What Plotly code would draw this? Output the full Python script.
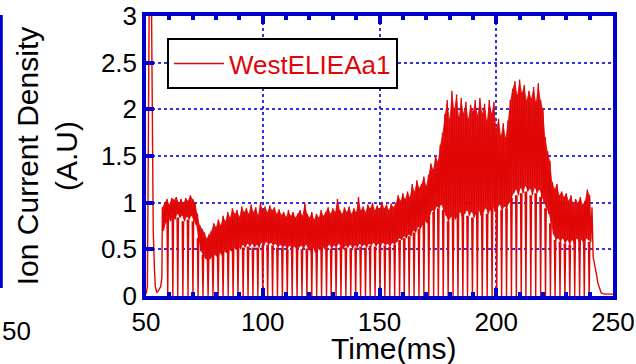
import plotly.graph_objects as go

# ---- data ----
start_t = [50.0, 50.6, 51.0, 51.4, 52.3, 52.8, 53.1, 53.6, 54.0, 54.6, 55.2, 55.8, 56.3, 56.8]
start_v = [0.02, 0.10, 1.60, 3.30, 3.30, 1.60, 0.70, 0.30, 0.10, 0.04, 0.05, 0.08, 0.10, 0.20]

band_t = list(range(57, 241))  # 1 ms samples, 57..240
band_upper = [
    0.95, 1.00, 1.04, 0.98, 1.05, 1.03, 1.06, 1.00, 1.04, 0.99,   # 57-66
    1.05, 1.02, 1.08, 1.04, 1.00, 0.88, 0.76, 0.72, 0.68, 0.62,   # 67-76
    0.66, 0.70, 0.78, 0.74, 0.82, 0.76, 0.86, 0.80, 0.90, 0.84,   # 77-86
    0.94, 0.88, 0.92, 0.85, 0.96, 0.90, 0.94, 0.88, 0.98, 0.90,   # 87-96
    0.95, 0.87, 1.00, 0.92, 0.96, 0.90, 0.97, 0.92, 0.95, 0.88,   # 97-106
    0.93, 0.87, 0.90, 0.85, 0.92, 0.86, 0.90, 0.84, 0.88, 0.92,   # 107-116
    0.86, 1.00, 0.88, 0.84, 0.90, 0.82, 0.88, 0.84, 0.92, 0.86,   # 117-126
    0.90, 0.95, 0.88, 0.94, 0.90, 1.04, 0.92, 0.88, 0.95, 0.90,   # 127-136
    0.96, 0.88, 0.94, 0.90, 1.06, 0.92, 0.96, 0.90, 0.98, 0.94,   # 137-146
    1.00, 0.92, 0.97, 0.93, 1.01, 0.94, 0.98, 0.92, 0.99, 0.95,   # 147-156
    1.00, 1.08, 1.02, 1.10, 1.04, 1.12, 1.06, 1.20, 1.12, 1.24,   # 157-166
    1.16, 1.20, 1.28, 1.18, 1.30, 1.42, 1.36, 1.50, 1.44, 1.62,   # 167-176
    1.75, 1.95, 2.10, 1.90, 2.20, 2.00, 2.16, 1.92, 2.12, 1.96,   # 177-186
    2.08, 1.90, 2.05, 1.98, 2.10, 1.94, 2.12, 1.96, 2.06, 1.88,   # 187-196
    2.10, 1.96, 2.08, 1.80, 1.90, 1.72, 1.85, 1.70, 1.88, 2.10,   # 197-206
    2.22, 2.30, 2.16, 2.32, 2.18, 2.26, 2.10, 2.20, 2.12, 2.24,   # 207-216
    2.08, 2.28, 2.10, 2.00, 1.70, 1.55, 1.45, 1.22, 1.15, 1.20,   # 217-226
    1.08, 1.12, 1.06, 1.10, 1.02, 1.08, 0.98, 1.04, 1.00, 1.06,   # 227-236
    0.98, 1.02, 1.14, 1.08,                                       # 237-240
]
band_lower = [
    0.70, 0.78, 0.84, 0.80, 0.86, 0.82, 0.88, 0.84, 0.86, 0.80,   # 57-66
    0.85, 0.82, 0.86, 0.80, 0.76, 0.62, 0.48, 0.44, 0.40, 0.38,   # 67-76
    0.40, 0.42, 0.44, 0.42, 0.46, 0.44, 0.48, 0.46, 0.50, 0.48,   # 77-86
    0.52, 0.50, 0.54, 0.50, 0.55, 0.52, 0.56, 0.53, 0.56, 0.52,   # 87-96
    0.55, 0.52, 0.57, 0.54, 0.58, 0.55, 0.57, 0.54, 0.56, 0.52,   # 97-106
    0.55, 0.52, 0.54, 0.50, 0.54, 0.51, 0.53, 0.50, 0.52, 0.54,   # 107-116
    0.50, 0.55, 0.51, 0.48, 0.52, 0.47, 0.51, 0.49, 0.53, 0.50,   # 117-126
    0.52, 0.55, 0.51, 0.54, 0.52, 0.56, 0.53, 0.50, 0.54, 0.52,   # 127-136
    0.55, 0.51, 0.54, 0.52, 0.56, 0.53, 0.55, 0.52, 0.56, 0.54,   # 137-146
    0.57, 0.53, 0.56, 0.54, 0.57, 0.54, 0.56, 0.53, 0.57, 0.55,   # 147-156
    0.58, 0.62, 0.60, 0.64, 0.62, 0.66, 0.64, 0.70, 0.68, 0.74,   # 157-166
    0.72, 0.76, 0.80, 0.78, 0.86, 0.92, 0.90, 0.96, 0.94, 0.98,   # 167-176
    0.92, 0.86, 0.80, 0.84, 0.88, 0.82, 0.86, 0.90, 0.84, 0.88,   # 177-186
    0.92, 0.86, 0.90, 0.84, 0.88, 0.92, 0.86, 0.90, 0.94, 0.88,   # 187-196
    0.92, 0.96, 0.90, 0.94, 0.98, 0.92, 0.96, 0.94, 1.00, 1.05,   # 197-206
    1.10, 1.14, 1.08, 1.16, 1.10, 1.18, 1.12, 1.15, 1.08, 1.16,   # 207-216
    1.10, 1.14, 1.06, 1.00, 0.94, 0.88, 0.78, 0.66, 0.60, 0.62,   # 217-226
    0.58, 0.62, 0.56, 0.60, 0.55, 0.60, 0.56, 0.62, 0.58, 0.60,   # 227-236
    0.56, 0.62, 0.60, 0.58,                                       # 237-240
]

tail_t = [241.0, 241.5, 242.0, 242.5, 243.0, 243.5, 244.0, 244.5, 245.0, 246.5, 248.0, 250.0]
tail_v = [0.95, 0.42, 0.36, 0.30, 0.22, 0.14, 0.10, 0.05, 0.03, 0.02, 0.02, 0.02]

dip_t = [
    59.3, 61.5, 63.6, 65.8, 68.0, 70.1, 72.3, 74.4, 76.6, 78.7,
    80.9, 83.0, 85.2, 87.3, 89.4, 91.6, 93.7, 95.8, 97.9, 100.0,
    102.1, 104.2, 106.3, 108.4, 110.5, 112.6, 114.7, 116.8, 118.9, 121.0,
    123.1, 125.2, 127.3, 129.3, 131.4, 133.5, 135.6, 137.7, 139.8, 141.9,
    144.0, 146.0, 148.1, 150.2, 152.3, 154.4, 156.5, 158.6, 160.6, 162.7,
    164.8, 166.9, 169.0, 171.1, 173.2, 175.2, 177.3, 179.4, 181.5, 183.6,
    185.7, 187.7, 189.8, 191.9, 194.0, 196.1, 198.2, 200.2, 202.3, 204.4,
    206.5, 208.6, 210.7, 212.7, 214.8, 216.9, 219.0, 221.1, 223.2, 225.2,
    227.3, 229.4, 231.5, 233.6, 235.7, 237.7, 239.8,
]

series_name = "WestELIEAa1"
x_title = "Time(ms)"
y_title = "Ion Current Density<br>(A.U)"

RED = "rgb(224,6,6)"
BLUE = "rgb(0,0,205)"
GRID = "rgb(50,50,230)"
FONT = "Liberation Sans, Arial, sans-serif"

# dense band body (filled between the envelopes)
fx = list(band_t) + [t + 0.5 for t in reversed(band_t)]
fy = list(band_upper) + list(reversed(band_lower))

# signal trace from the arrays
sx = list(start_t)
sy = list(start_v)
for t, u, l in zip(band_t, band_upper, band_lower):
    sx += [t, t + 0.5]
    sy += [u, l]
sx += tail_t
sy += tail_v

# sweep dips down to zero
dx, dy = [], []
for t in dip_t:
    i = min(range(len(band_t)), key=lambda k: abs(band_t[k] - t))
    lv = band_lower[i]
    dx += [t - 0.3, t, t + 0.3, None]
    dy += [lv, 0.0, lv, None]

fig = go.Figure()
fig.add_trace(go.Scatter(x=fx, y=fy, mode="none", fill="toself",
                         fillcolor="rgba(226,10,10,0.9)", showlegend=False, hoverinfo="skip"))
fig.add_trace(go.Scatter(x=dx, y=dy, mode="lines", line=dict(color=RED, width=1.4),
                         showlegend=False, hoverinfo="skip"))
fig.add_trace(go.Scatter(x=sx, y=sy, mode="lines", name=series_name,
                         line=dict(color=RED, width=1.4)))

fig.update_layout(
    width=636, height=364,
    margin=dict(l=146, r=23, t=16, b=68, autoexpand=False),
    paper_bgcolor="white", plot_bgcolor="white",
    font=dict(family=FONT, size=26, color="black"),
    legend=dict(x=0.045, y=0.921, xanchor="left", yanchor="top",
                bgcolor="white", bordercolor="black", borderwidth=2,
                itemwidth=50, tracegroupgap=0,
                font=dict(family=FONT, size=26, color=RED)),
)
fig.update_xaxes(
    range=[50, 250], tickvals=[50, 100, 150, 200, 250], automargin=False,
    showline=True, linecolor=BLUE, linewidth=3.5, mirror="ticks",
    ticks="inside", ticklen=8, tickwidth=3.5, tickcolor=BLUE,
    minor=dict(dtick=10, tick0=50, ticks="inside", ticklen=4, tickwidth=3.5, tickcolor=BLUE, showgrid=False),
    showgrid=True, gridcolor=GRID, gridwidth=1.5, griddash="dot",
    zeroline=False, tickfont=dict(size=26),
)
fig.update_yaxes(
    range=[0, 3], tickvals=[0, 0.5, 1, 1.5, 2, 2.5, 3], automargin=False,
    ticktext=["0", "0.5", "1", "1.5", "2", "2.5", "3"],
    showline=True, linecolor=BLUE, linewidth=3.5, mirror=True,
    ticks="inside", ticklen=8, tickwidth=3.5, tickcolor=BLUE,
    showgrid=True, gridcolor=GRID, gridwidth=1.5, griddash="dot",
    zeroline=False, tickfont=dict(size=26),
    title=dict(text=y_title, font=dict(size=30)),
)

# x-axis title placed just below the tick labels
fig.add_annotation(text=x_title, xref="paper", yref="paper",
                   x=(394 - 146) / 467, y=(296 - 330) / 280,
                   xanchor="center", yanchor="top", showarrow=False,
                   font=dict(family=FONT, size=30, color="black"))

# remnants of the neighbouring panel at the far left
fig.add_shape(type="line", xref="paper", yref="paper",
              x0=(1.3 - 146) / 467, x1=(1.3 - 146) / 467,
              y0=(296 - 15) / 280, y1=(296 - 288) / 280,
              line=dict(color=BLUE, width=3))
fig.add_annotation(text="50", xref="paper", yref="paper",
                   x=(0 - 146) / 467, y=(296 - 331) / 280,
                   xanchor="left", yanchor="middle", showarrow=False,
                   font=dict(family=FONT, size=26, color="black"))

fig.write_html("out.html")
